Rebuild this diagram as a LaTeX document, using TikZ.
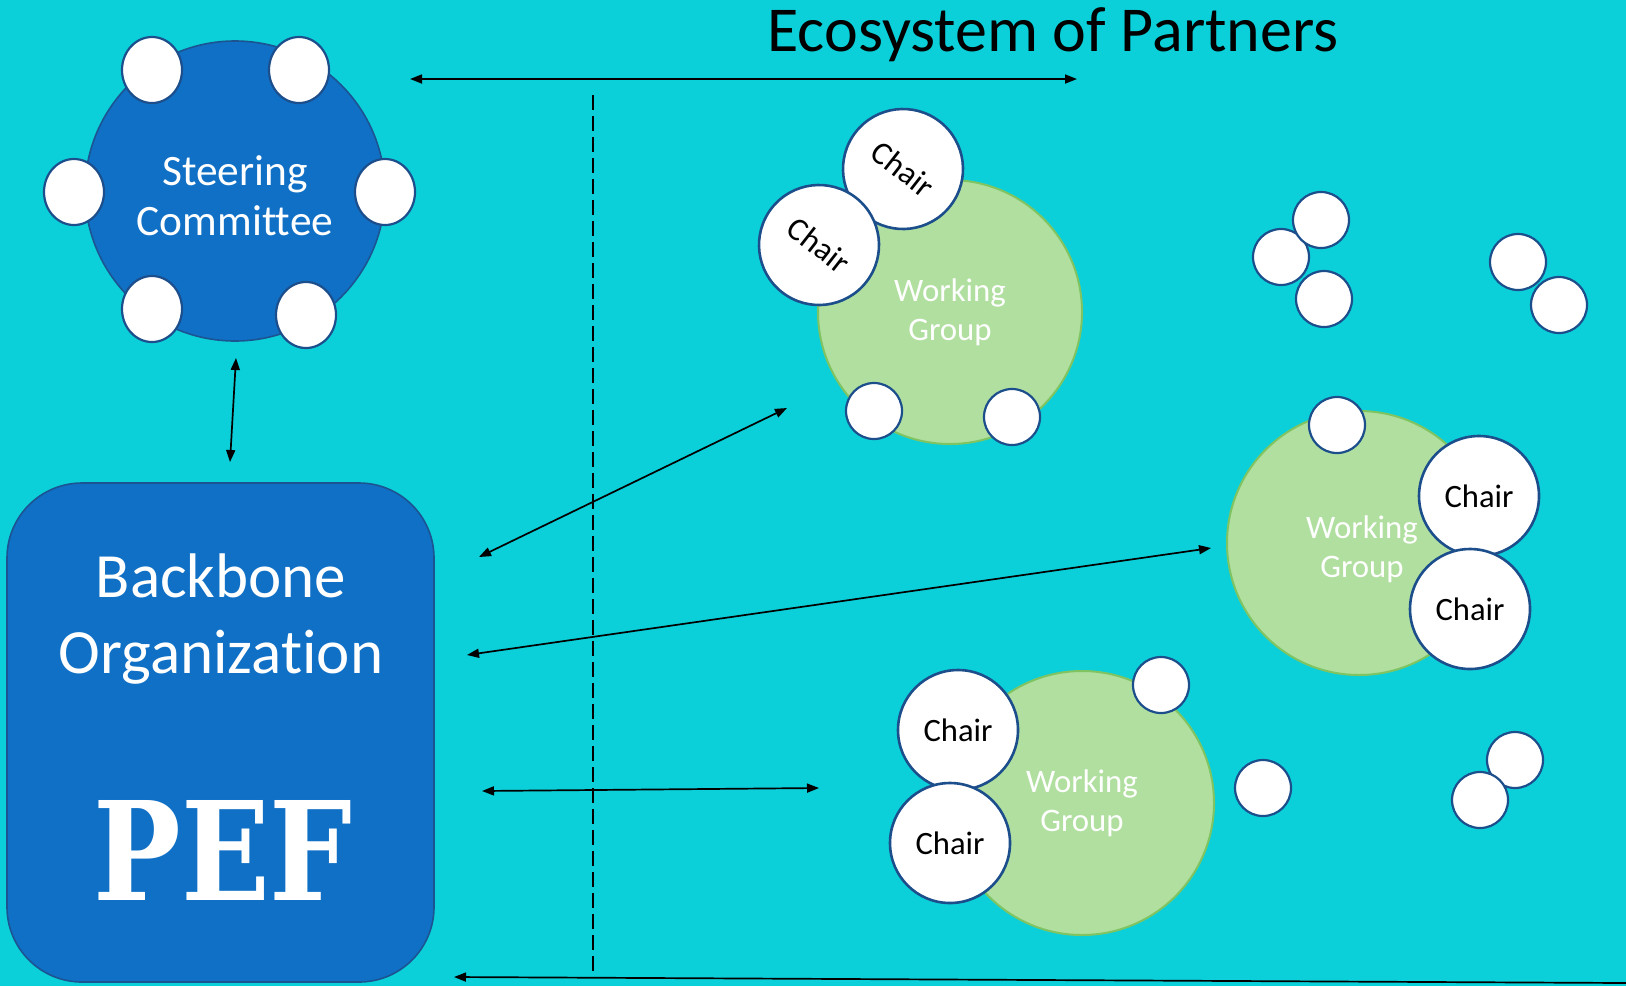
\documentclass[tikz,border=0pt]{standalone}
\usepackage{fontspec}
\setmainfont{Carlito}[Ligatures=NoCommon]
\newfontfamily\peffont{DejaVu Serif}
\usetikzlibrary{arrows.meta,shapes.geometric}

\definecolor{sea}{RGB}{11,208,217}
\definecolor{royal}{RGB}{16,112,198}
\definecolor{royaledge}{RGB}{28,84,146}
\definecolor{seatedge}{RGB}{28,78,140}
\definecolor{leaf}{RGB}{176,223,160}
\definecolor{leafedge}{RGB}{128,196,98}

\begin{document}
\begin{tikzpicture}[x=0.5pt,y=-0.5pt,
    seat/.style={circle,draw=seatedge,line width=1.1pt,fill=white,minimum size=#1,inner sep=0pt},
    seat/.default=28pt,
    member/.style={ellipse,draw=seatedge,line width=1.1pt,fill=white,minimum width=30pt,minimum height=33pt,inner sep=0pt},
    chair/.style={seat=60pt,line width=1.3pt,font=\fontsize{16.3}{19}\selectfont},
    group/.style={circle,draw=leafedge,line width=1pt,fill=leaf,minimum size=132pt,inner sep=0pt,
      text=white,align=center,font=\fontsize{16.4}{19.3}\selectfont},
    link/.style={{Triangle[length=6pt,width=4.5pt]}-{Triangle[length=6pt,width=4.5pt]},line width=0.85pt},
    onelink/.style={{Triangle[length=6pt,width=4.5pt]}-,line width=0.85pt}]
      \fill[sea] (0,0) rectangle (1626,986);
      \useasboundingbox (0,0) rectangle (1626,986);

      \node[anchor=base,font=\fontsize{32}{38}\selectfont] (title) at (1053,51) {Ecosystem of Partners};

      % steering committee with its members
      \node[circle,draw=royaledge,line width=0.8pt,fill=royal,minimum size=150pt] (sc) at (235,191) {};
      \node[text=white,align=center,font=\fontsize{21.7}{25}\selectfont] (sctext) at (235,196) {Steering\\Committee};
      \foreach \p [count=\i] in {(152,70),(299,70),(74,192),(385,192),(152,309),(306,315)}
        \node[member] (sc\i) at \p {};

      % backbone organization
      \node[rectangle,rounded corners=37.5pt,draw=royaledge,line width=0.8pt,fill=royal,
        minimum width=213.5pt,minimum height=249.5pt] (bb) at (220.5,732.5) {};
      \node[text=white,align=center,font=\fontsize{31.5}{38}\selectfont] (bbtext) at (221,619) {Backbone\\Organization};
      \node[text=white,font=\peffont\bfseries\fontsize{68.6}{70}\selectfont] (pef) at (223,850) {\scalebox{0.85}[1]{PEF}};

      % working groups
      \node[group] (wg1) at (950,312) {Working\\Group};
      \node[seat] (wg1a) at (874,411) {};
      \node[seat] (wg1b) at (1012,417) {};
      \node[chair,rotate=-38] (wg1c) at (903,169) {Chair};
      \node[chair,rotate=-38] (wg1d) at (819,245) {Chair};

      \node[group] (wg2) at (1359,543) {};
      \node[text=white,align=center,font=\fontsize{16.4}{19.3}\selectfont] (wg2text) at (1362,549) {Working\\Group};
      \node[seat] (wg2a) at (1337,425) {};
      \node[chair] (wg2c) at (1479,496) {Chair};
      \node[chair] (wg2d) at (1470,609) {Chair};

      \node[group] (wg3) at (1082,803) {Working\\Group};
      \node[seat] (wg3a) at (1161,685) {};
      \node[chair] (wg3c) at (958,730) {Chair};
      \node[chair] (wg3d) at (950,843) {Chair};

      % partners not yet in a group
      \foreach \p [count=\i] in {(1281,257),(1321,220),(1324,299),(1518,262),(1559,305),(1263,788),(1515,760),(1480,800)}
        \node[seat] (p\i) at \p {};

      \coordinate (ecoleft) at (410,79);
      \coordinate (ecoright) at (1077,79);
      \coordinate (divtop) at (593,95);
      \coordinate (divbot) at (593,977);
      \coordinate (sclow) at (236,358);
      \coordinate (bbtop) at (230,462);
      \coordinate (bb1) at (479,557);
      \coordinate (wg1end) at (787,408);
      \coordinate (bb2) at (467,655);
      \coordinate (wg2end) at (1211,548);
      \coordinate (bb3) at (482,791);
      \coordinate (wg3end) at (819,788);
      \coordinate (bb4) at (454,977);
      \coordinate (farright) at (1626,983);

      \draw[line width=1.2pt,dash pattern=on 7.5pt off 3pt] (divtop) -- (divbot);
      \draw[link] (ecoleft) -- (ecoright);
      \draw[link] (sclow) -- (bbtop);
      \draw[link] (bb1) -- (wg1end);
      \draw[link] (bb2) -- (wg2end);
      \draw[link] (bb3) -- (wg3end);
      \draw[onelink] (bb4) -- (farright);
\end{tikzpicture}
\end{document}
